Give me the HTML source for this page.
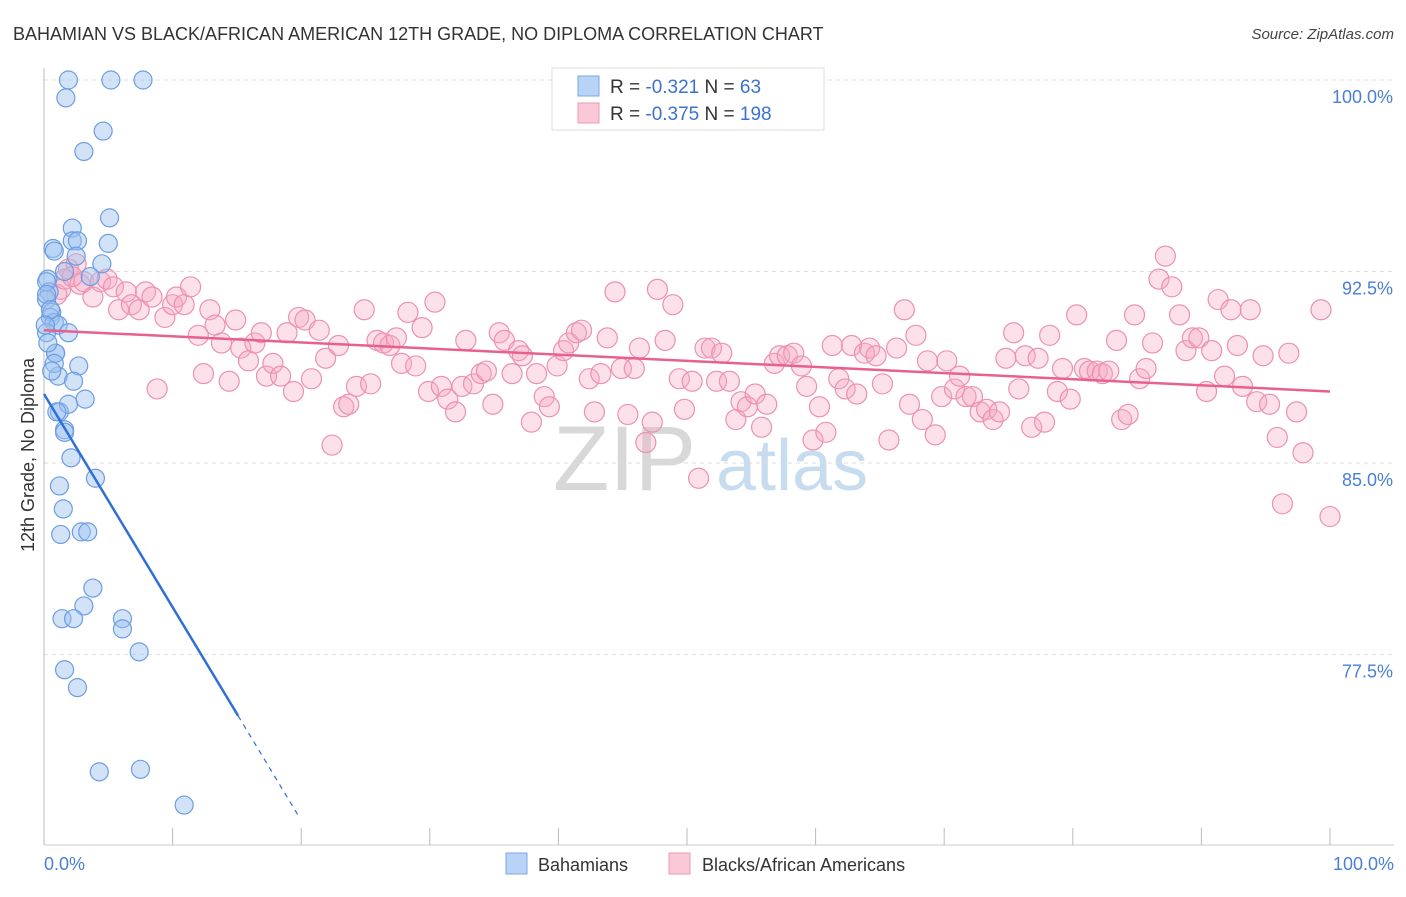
<!DOCTYPE html>
<html><head><meta charset="utf-8"><style>
body{margin:0;background:#fff;font-family:"Liberation Sans",sans-serif}
svg text{font-family:"Liberation Sans",sans-serif}
</style></head><body>
<svg id="chart" width="1406" height="892" xmlns="http://www.w3.org/2000/svg">
<text x="13" y="40" font-size="18" fill="#333">BAHAMIAN VS BLACK/AFRICAN AMERICAN 12TH GRADE, NO DIPLOMA CORRELATION CHART</text>
<text x="1394" y="39" font-size="15" fill="#444" text-anchor="end" font-style="italic">Source: ZipAtlas.com</text>
<g>
<text x="553" y="490" font-size="92" fill="#d8d8d8" font-family="Liberation Serif,serif">ZIP</text>
<text x="716" y="490" font-size="72" fill="#c8dcf0">atlas</text>
</g>
<g id="grid"></g>
<g id="axes"></g>
<g id="pink"></g>
<g id="blue"></g>
<g id="lines"></g>
<text transform="translate(34,455) rotate(-90)" font-size="18" fill="#333" text-anchor="middle">12th Grade, No Diploma</text>
<text x="44" y="870" font-size="18" fill="#4a7fd6">0.0%</text>
<text x="1394" y="870" font-size="18" fill="#4a7fd6" text-anchor="end">100.0%</text>
<g>
<rect x="552" y="68" width="272" height="62" fill="#fff" stroke="#ddd"/>
<rect x="578" y="76" width="21" height="20" fill="#b8d3f5" stroke="#7aa7e3"/>
<rect x="578" y="103" width="21" height="20" fill="#fac8d6" stroke="#ee9ab4"/>
<text x="610" y="93" font-size="19" fill="#333">R = <tspan fill="#3b72d0">-0.321</tspan>   N =  <tspan fill="#3b72d0">63</tspan></text>
<text x="610" y="120" font-size="19" fill="#333">R = <tspan fill="#3b72d0">-0.375</tspan>   N = <tspan fill="#3b72d0">198</tspan></text>
</g>
<g>
<rect x="506" y="853" width="21" height="21" fill="#b8d3f5" stroke="#7aa7e3"/>
<text x="538" y="871" font-size="18" fill="#333">Bahamians</text>
<rect x="669" y="853" width="21" height="21" fill="#fac8d6" stroke="#ee9ab4"/>
<text x="702" y="871" font-size="18" fill="#333">Blacks/African Americans</text>
</g>
</svg>
<script>
const yTicks=[100,92.5,85,77.5];
const yTickLabels=["100.0%","92.5%","85.0%","77.5%"];
const xTicks=[0,10,20,30,40,50,60,70,80,90,100];
const blueX=[1.9,5.2,7.7,1.7,4.6,3.1,5.1,2.2,0.7,2.2,2.6,5.0,0.8,2.5,4.5,0.3,1.6,3.6,0.4,0.2,0.6,0.5,0.8,1.1,1.9,0.2,0.9,0.9,2.7,1.1,2.3,3.2,1.2,1.9,1.6,1.6,2.1,4.0,1.2,1.5,1.3,2.9,3.4,3.8,3.1,1.4,2.3,6.1,6.1,7.4,1.6,2.6,4.3,7.5,10.9,0.2,0.2,0.5,0.1,0.3,1.0,0.8,0.6];
const blueY=[100,100,100,99.3,98.0,97.2,94.6,94.2,93.4,93.7,93.7,93.6,93.3,93.1,92.8,92.2,92.5,92.3,91.7,91.4,90.9,90.7,90.5,90.4,90.1,90.1,89.3,89.3,88.8,88.4,88.2,87.5,87.0,87.3,86.3,86.2,85.2,84.4,84.1,83.2,82.2,82.3,82.3,80.1,79.4,78.9,78.9,78.9,78.5,77.6,76.9,76.2,72.9,73.0,71.6,92.1,91.6,91.0,90.4,89.7,87.0,88.9,88.6];
const pinkX=[1.3,1.0,1.6,1.9,2.5,2.8,3.1,2.2,3.8,4.4,4.9,5.4,6.4,5.8,6.8,7.4,7.9,8.4,9.4,10.0,10.3,10.9,11.4,8.8,12.0,12.4,12.9,13.3,13.8,14.4,14.9,15.3,15.9,16.4,16.9,17.3,17.8,18.4,18.9,19.4,19.8,20.3,20.8,21.4,21.9,22.4,22.9,23.3,23.7,24.3,24.9,25.4,25.9,26.4,26.9,27.4,27.8,28.3,28.9,29.4,29.9,30.4,30.9,31.4,32.0,32.5,32.8,33.4,34.0,34.4,34.9,35.4,35.8,36.4,36.9,37.2,37.9,38.3,38.9,39.3,39.9,40.4,40.8,41.4,41.8,42.4,42.8,43.3,43.8,44.4,44.9,45.4,45.9,46.3,46.8,47.3,47.7,48.3,48.9,49.4,49.8,50.4,50.9,51.4,51.9,52.3,52.7,53.3,53.8,54.2,54.7,55.3,55.8,56.2,56.8,57.2,57.8,58.3,58.9,59.3,59.8,60.3,60.8,61.3,61.8,62.3,62.8,63.2,63.8,64.2,64.7,65.2,65.7,66.3,66.9,67.3,67.8,68.3,68.7,69.3,69.8,70.2,70.8,71.2,71.7,72.2,72.8,73.3,73.8,74.3,74.8,75.4,75.8,76.3,76.8,77.3,77.8,78.2,78.8,79.2,79.8,80.3,80.9,81.3,81.9,82.3,82.8,83.4,83.8,84.3,84.8,85.2,85.7,86.2,86.7,87.2,87.7,88.3,88.8,89.3,89.8,90.4,90.8,91.3,91.8,92.3,92.8,93.2,93.8,94.3,94.8,95.3,95.9,96.3,96.8,97.4,97.9,99.3,100];
const pinkY=[91.8,91.6,92.2,92.6,92.8,92.0,92.1,92.3,91.5,92.1,92.2,91.9,91.7,91.0,91.2,91.0,91.7,91.5,90.7,91.2,91.5,91.2,91.9,87.9,90.0,88.5,91.0,90.4,89.7,88.2,90.6,89.5,89.0,89.7,90.1,88.4,88.9,88.4,90.1,87.8,90.7,90.6,88.3,90.2,89.1,85.7,89.6,87.2,87.3,88.0,91.0,88.1,89.8,89.7,89.6,89.9,88.9,90.9,88.8,90.3,87.8,91.3,88.0,87.5,87.0,88.0,89.8,88.1,88.5,88.6,87.3,90.1,89.8,88.5,89.4,89.2,86.6,88.5,87.6,87.2,88.8,89.4,89.7,90.1,90.2,88.3,87.0,88.5,89.9,91.7,88.7,86.9,88.7,89.5,85.8,86.6,91.8,89.8,91.2,88.3,87.1,88.2,84.4,89.5,89.5,88.2,89.3,88.2,86.7,87.4,87.2,87.7,86.4,87.3,88.9,89.2,89.2,89.3,88.8,88.0,85.9,87.2,86.2,89.6,88.3,87.9,89.6,87.7,89.3,89.5,89.2,88.1,85.9,89.5,91.0,87.3,90.0,86.7,89.0,86.1,87.6,89.0,87.9,88.4,87.6,87.6,87.0,87.1,86.7,87.0,89.1,90.1,87.9,89.2,86.4,89.1,86.6,90.0,87.8,88.7,87.5,90.8,88.7,88.6,88.6,88.5,88.6,89.8,86.7,86.9,90.8,88.3,88.7,89.7,92.2,93.1,91.9,90.8,89.4,89.9,89.9,87.8,89.4,91.4,88.4,91.0,89.6,88.0,91.0,87.4,89.2,87.3,86.0,83.4,89.3,87.0,85.4,91.0,82.9];
const blueLine={intercept:87.7,slope:-0.835,solidEnd:15.1,end:19.9};
const pinkLine={start:90.2,end:87.8};

const NS="http://www.w3.org/2000/svg";
const X0=44,X1=1330,YTOP=80,PXPER=25.53;
function xs(v){return X0+(X1-X0)*v/100;}
function ys(v){return YTOP+(100-v)*PXPER;}
function mk(tag,parent,attrs){const e=document.createElementNS(NS,tag);for(const k in attrs)e.setAttribute(k,attrs[k]);document.getElementById(parent).appendChild(e);return e;}

yTicks.forEach((t,i)=>{
  const l=mk('line','grid',{x1:X0,x2:1394,y1:ys(t),y2:ys(t),stroke:'#ddd','stroke-dasharray':'4,4'});
  
  
  const tx=mk('text','grid',{x:1393,y:ys(t)+23,'font-size':18,fill:'#4a7fd6','text-anchor':'end'});
  tx.textContent=yTickLabels[i];
  
  
});
const ax=mk('line','axes',{x1:X0,x2:X0,y1:68,y2:845,stroke:'#bbb'});


const bx=mk('line','axes',{x1:X0,x2:1394,y1:845,y2:845,stroke:'#ccc'});


xTicks.forEach(t=>{
  const l=mk('line','axes',{x1:xs(t),x2:xs(t),y1:828,y2:845,stroke:'#bbb'});
  
  
});
pinkX.forEach((x,i)=>{
  const c=mk('circle','pink',{cx:xs(x),cy:ys(pinkY[i]),r:10,fill:'rgba(246,170,194,0.35)',stroke:'#ec91ae','stroke-width':1.2});
  
  
});
blueX.forEach((x,i)=>{
  const c=mk('circle','blue',{cx:xs(x),cy:ys(blueY[i]),r:9,fill:'rgba(155,192,240,0.45)',stroke:'#6c9de2','stroke-width':1.2});
  
  
});
const pl=mk('line','lines',{x1:xs(0),y1:ys(pinkLine.start),x2:xs(100),y2:ys(pinkLine.end),stroke:'#e8608e','stroke-width':2.5});


const bl=mk('line','lines',{x1:xs(0),y1:ys(blueLine.intercept),x2:xs(blueLine.solidEnd),y2:ys(blueLine.intercept+blueLine.slope*blueLine.solidEnd),stroke:'#2f6fd8','stroke-width':2.5});


const bd=mk('line','lines',{x1:xs(blueLine.solidEnd),y1:ys(blueLine.intercept+blueLine.slope*blueLine.solidEnd),x2:xs(blueLine.end),y2:ys(blueLine.intercept+blueLine.slope*blueLine.end),stroke:'#2f6fd8','stroke-width':1.2,'stroke-dasharray':'5,5'});


</script>
</body></html>
